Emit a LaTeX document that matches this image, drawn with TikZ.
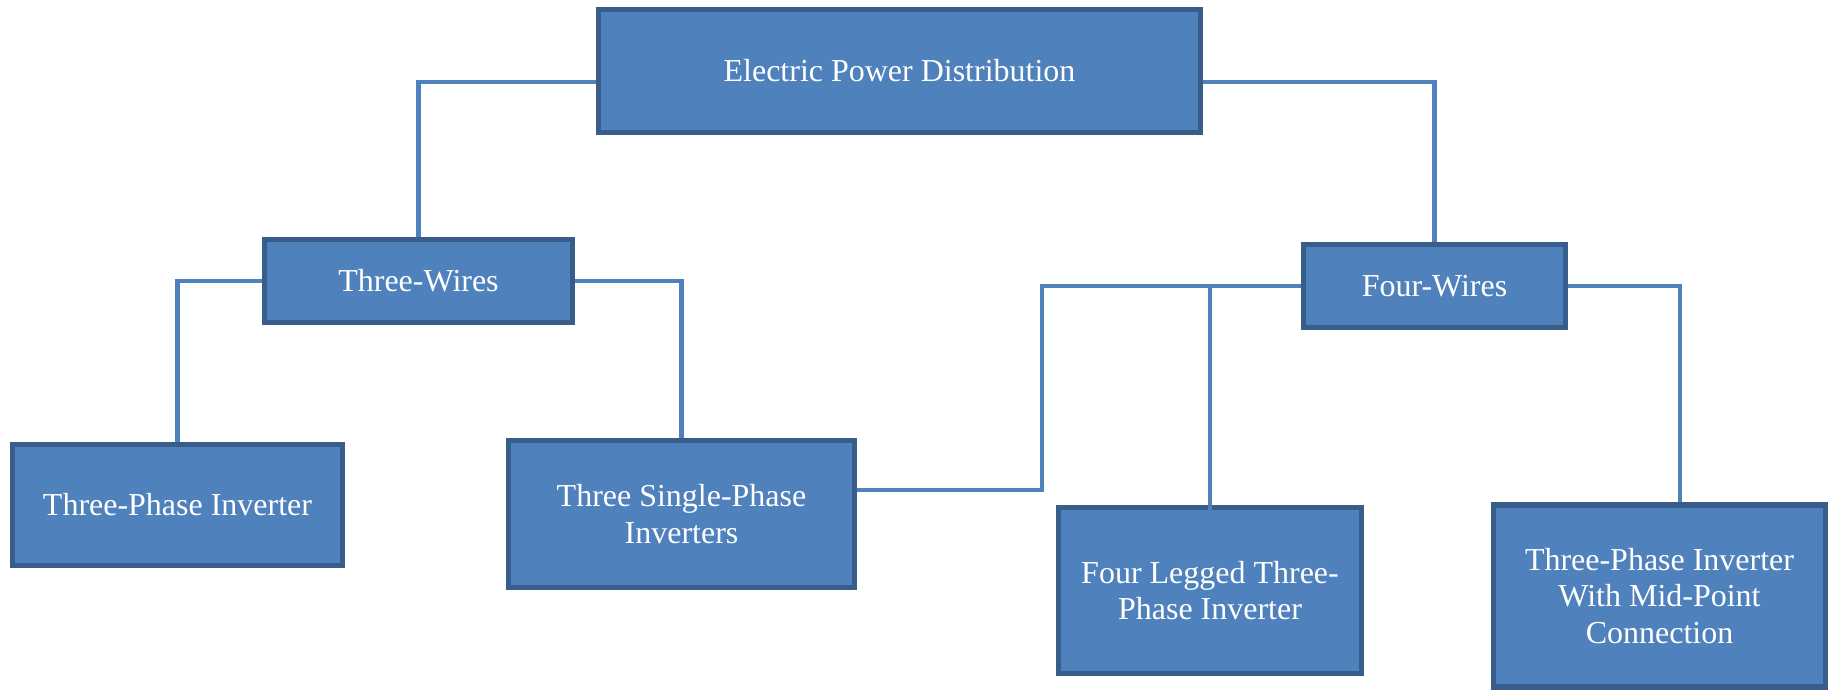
\documentclass[tikz,border=0pt]{standalone}
\usepackage{fontspec}
\setmainfont{Liberation Serif}
\usetikzlibrary{positioning,backgrounds,calc}
\definecolor{boxfill}{HTML}{4F81BD}
\definecolor{boxedge}{HTML}{385D8A}
\tikzset{
  treelink/.style={draw=boxfill, line width=1.15pt},
  treenode/.style={draw=boxedge, fill=boxfill, line width=1.45pt, text=white, align=center, inner sep=0pt},
}

\begin{document}
\begin{tikzpicture}[
  font=\fontsize{9.1}{10.5}\selectfont,
  tb/.style n args={2}{treenode, minimum width=#1cm, minimum height=#2cm},
]
  \useasboundingbox (0,0) rectangle (18.36,-6.89);
  \node[tb={6.02}{1.23}] (epd) at (8.995,-0.71) {Electric Power Distribution};
  \node[tb={3.08}{0.83}] (tw) at (4.185,-2.81) {Three-Wires};
  \node[tb={2.62}{0.83}] (fw) at (14.345,-2.86) {Four-Wires};
  \node[tb={3.30}{1.21}] (tpi) at (1.775,-5.05) {Three-Phase Inverter};
  \node[tb={3.46}{1.47}] (tsp) at (6.815,-5.14) {Three Single-Phase\\Inverters};
  \node[tb={3.03}{1.66}] (flt) at (12.10,-5.905) {Four Legged Three-\\Phase Inverter};
  \node[tb={3.32}{1.82}] (mid) at (16.595,-5.96) {Three-Phase Inverter\\With Mid-Point\\Connection};
  \begin{scope}[on background layer]
    \draw[treelink] ($(epd.west)+(0,-0.11)$) -| (tw.north);
    \draw[treelink] ($(epd.east)+(0,-0.11)$) -| (fw.north);
    \foreach \a/\b in {west/tpi,east/tsp}
      \draw[treelink] (tw.\a) -| (\b.north);
    \draw[treelink] (fw.east) -| ($(mid.north)+(0.205,0)$);
    \draw[treelink] (fw.west) -| ($(tsp.east)+(1.85,0.24)$) -- ($(tsp.east)+(0,0.24)$);
  \end{scope}
  \draw[treelink] (fw.west) -| ($(flt.north)+(0,-0.39)$);
\end{tikzpicture}
\end{document}
